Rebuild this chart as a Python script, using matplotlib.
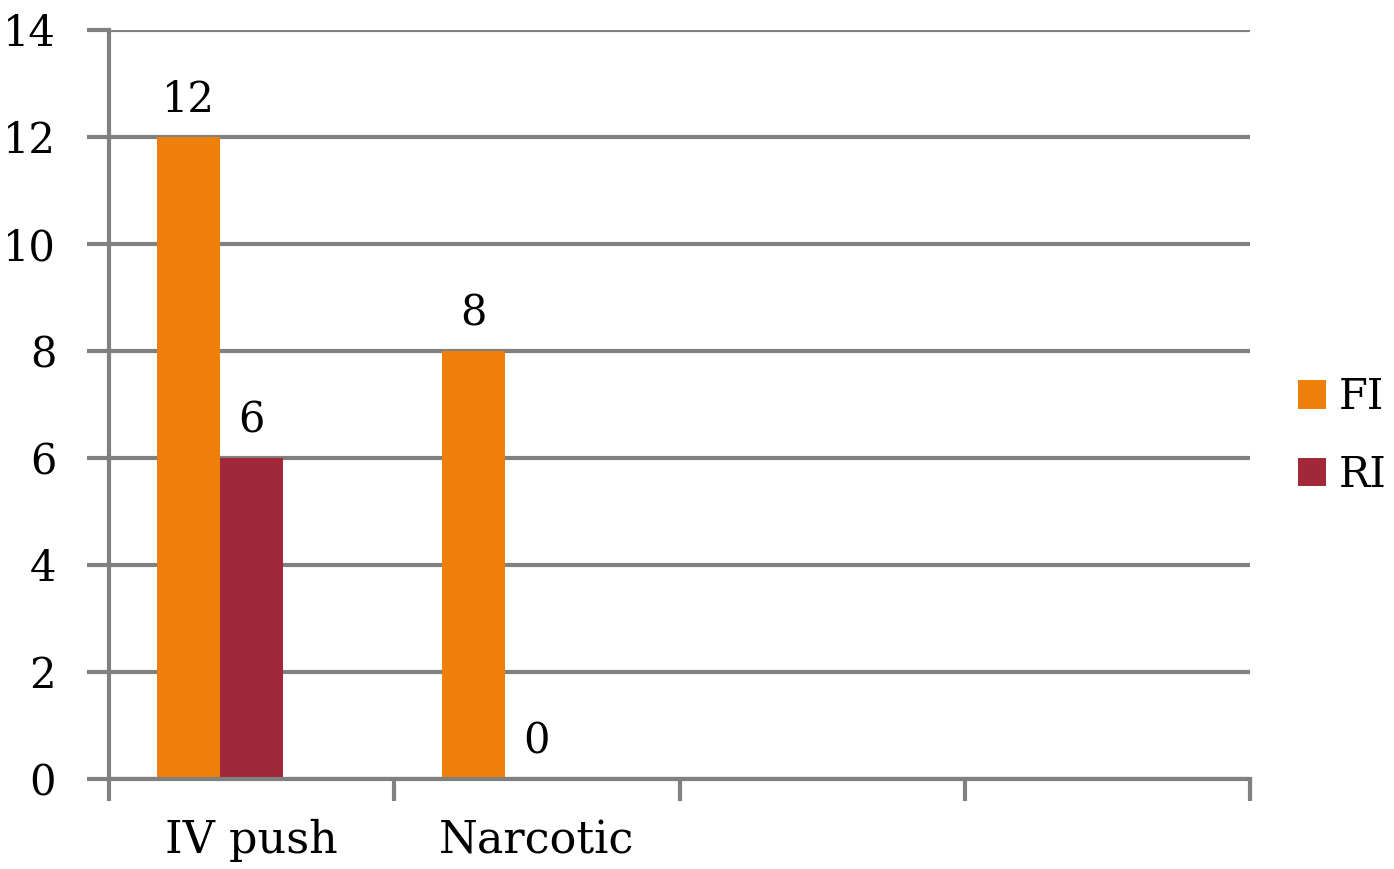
import numpy as np
import matplotlib.pyplot as plt

categories = ['IV push', 'Narcotic', '', '']
fi_values = [12, 8, None, None]
ri_values = [6, 0, None, None]
series_names = ['FI', 'RI']
colors = ['#EF7F0B', '#A12838']

plt.rcParams['font.family'] = ['DejaVu Serif']

fig = plt.figure(figsize=(13.94, 8.69), dpi=100)
ax = fig.add_axes([0.0782, 0.1036, 0.8185, 0.8619])

n = len(categories)
x = np.arange(n)
width = 0.222  # three bar slots per group, third one is empty

for i, (vals, name, col) in enumerate(zip([fi_values, ri_values], series_names, colors)):
    idx = [k for k, v in enumerate(vals) if v is not None]
    heights = [vals[k] for k in idx]
    pos = x[idx] + (i - 1) * width
    bars = ax.bar(pos, heights, width, color=col, label=name, zorder=3)
    for p, h in zip(pos, heights):
        ax.text(p, h + 0.3, str(h), ha='center', va='bottom', fontsize=30, zorder=4)

ax.set_xlim(-0.5, n - 0.5)
ax.set_ylim(0, 14)
ax.set_yticks(range(0, 15, 2))
ax.set_xticks(np.arange(-0.5, n, 1))
ax.set_xticklabels([])
ax.tick_params(axis='x', length=16, width=3, color='#808080', direction='out')
ax.tick_params(axis='y', length=16, width=3, color='#808080', direction='out',
               labelsize=30, pad=22)

# category names centered in each slot
for k, c in enumerate(categories):
    ax.text(x[k], -1.15, c, ha='center', va='center', fontsize=32)

ax.grid(axis='y', color='#808080', linewidth=3, zorder=0)
ax.set_axisbelow(True)
for s in ['top', 'right']:
    ax.spines[s].set_visible(False)
ax.spines['left'].set_color('#808080')
ax.spines['left'].set_linewidth(3)
ax.spines['bottom'].set_color('#808080')
ax.spines['bottom'].set_linewidth(3)
ax.spines['bottom'].set_zorder(5)

fig.legend(loc='center left', bbox_to_anchor=(1298 / 1394, 1 - 436 / 869), frameon=False,
           fontsize=30, handlelength=0.68, handleheight=0.68, handletextpad=0.3,
           labelspacing=0.85, borderpad=0, borderaxespad=0)

fig.savefig('out.png', dpi=100)
